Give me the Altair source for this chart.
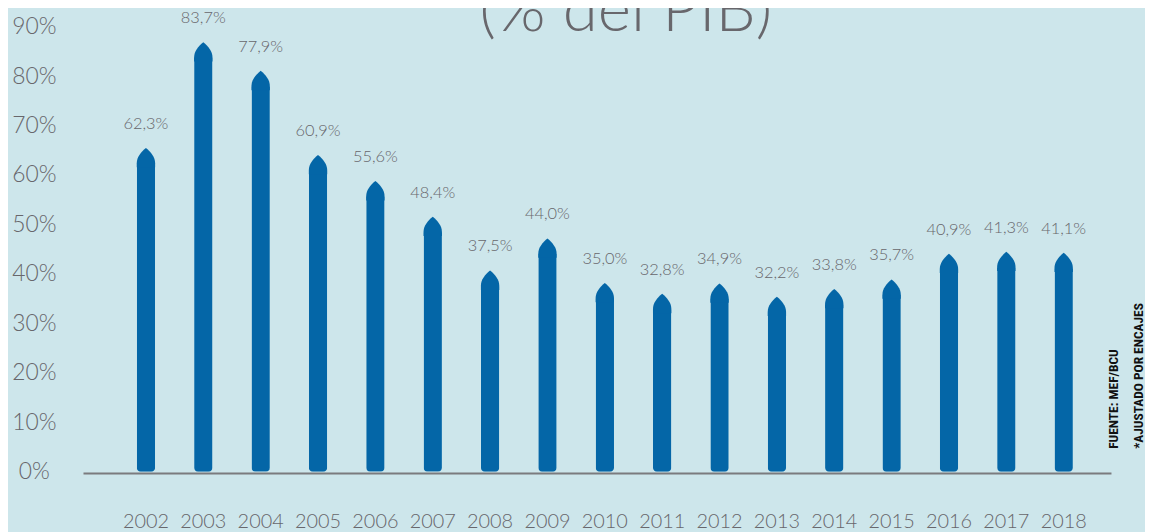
import altair as alt
import pandas as pd

years = [str(y) for y in range(2002, 2019)]
values = [62.3, 83.7, 77.9, 60.9, 55.6, 48.4, 37.5, 44.0, 35.0, 32.8, 34.9, 32.2, 33.8, 35.7, 40.9, 41.3, 41.1]
y_ticks = [0, 10, 20, 30, 40, 50, 60, 70, 80, 90]
title_text = "(% del PIB)"
source_lines = ["FUENTE: MEF/BCU", "*AJUSTADO POR ENCAJES"]

labels = [f"{v:.1f}".replace(".", ",") + "%" for v in values]
df = pd.DataFrame({"year": years, "value": values, "label": labels})

BG = "#cde6eb"
BAR = "#0466a7"
GRAY = "#68676c"
W = 981.75
H = 448

tip_path = "M-1,0.4 L-1,-0.05 C-1,-0.7 -0.55,-1.25 0,-1.7 C0.55,-1.25 1,-0.7 1,-0.05 L1,0.4 Z"

x_enc = alt.X("year:N", sort=years, title=None,
              scale=alt.Scale(paddingInner=0, paddingOuter=0),
              axis=alt.Axis(domain=False, ticks=False, grid=False, labelAngle=0,
                            labelPadding=50, labelBaseline="middle", labelFontSize=20,
                            labelColor=GRAY, labelFont="Lato", labelFontWeight=300))
y_enc = alt.Y("value:Q", title=None,
              scale=alt.Scale(domain=[0, 90], nice=False),
              axis=alt.Axis(values=y_ticks, domain=False, ticks=False, tickSize=0, grid=False,
                            labelExpr="datum.value + '%'", labelAlign="center",
                            labelPadding=84, labelBaseline="middle", labelFontSize=23,
                            labelColor=GRAY, labelFont="Lato", labelFontWeight=300))

base = alt.Chart(df)

rule = base.mark_rule(color="#7b7b7e", strokeWidth=2, yOffset=2).encode(
    x=alt.value(-34), x2=alt.value(1001), y=alt.datum(0)
).transform_filter("datum.year == '2002'")

bars = base.mark_bar(color=BAR, width=18.5, cornerRadiusBottomLeft=4,
                     cornerRadiusBottomRight=4).encode(x=x_enc, y=y_enc)

tips = base.mark_point(shape=tip_path, size=342, filled=True, opacity=1,
                       color=BAR, strokeWidth=0).encode(
    x=alt.X("year:N", sort=years), y=alt.Y("value:Q"))

text = base.mark_text(fontSize=16.5, color=GRAY, font="Lato", fontWeight=300,
                      baseline="middle", dy=-40).encode(
    x=alt.X("year:N", sort=years), y=alt.Y("value:Q"), text="label:N")

title_df = pd.DataFrame({"t": [title_text]})
title = alt.Chart(title_df).mark_text(fontSize=64, color=GRAY, font="Lato", fontWeight=300,
                                      baseline="alphabetic", align="center").encode(
    x=alt.value(512), y=alt.value(4), text="t:N")

src_df = pd.DataFrame({"t": source_lines, "xp": [1004, 1029]})
src = alt.Chart(src_df).mark_text(fontSize=13.5, color="#111111", fontWeight="bold",
                                  font="'Liberation Sans Narrow', 'Roboto Condensed', Roboto, sans-serif",
                                  angle=270, align="left", baseline="middle").encode(
    x=alt.X("xp:Q", scale=None), y=alt.value(425), text="t:N")

chart = alt.layer(rule, bars, tips, text, title, src).properties(
    width=W, height=H,
    autosize=alt.AutoSizeParams(type="none"),
    padding={"left": 110, "top": 17, "right": 53, "bottom": 59},
    background=BG,
).configure_view(stroke=None)

chart.save("out.html", embed_options={"renderer": "svg", "actions": False})
